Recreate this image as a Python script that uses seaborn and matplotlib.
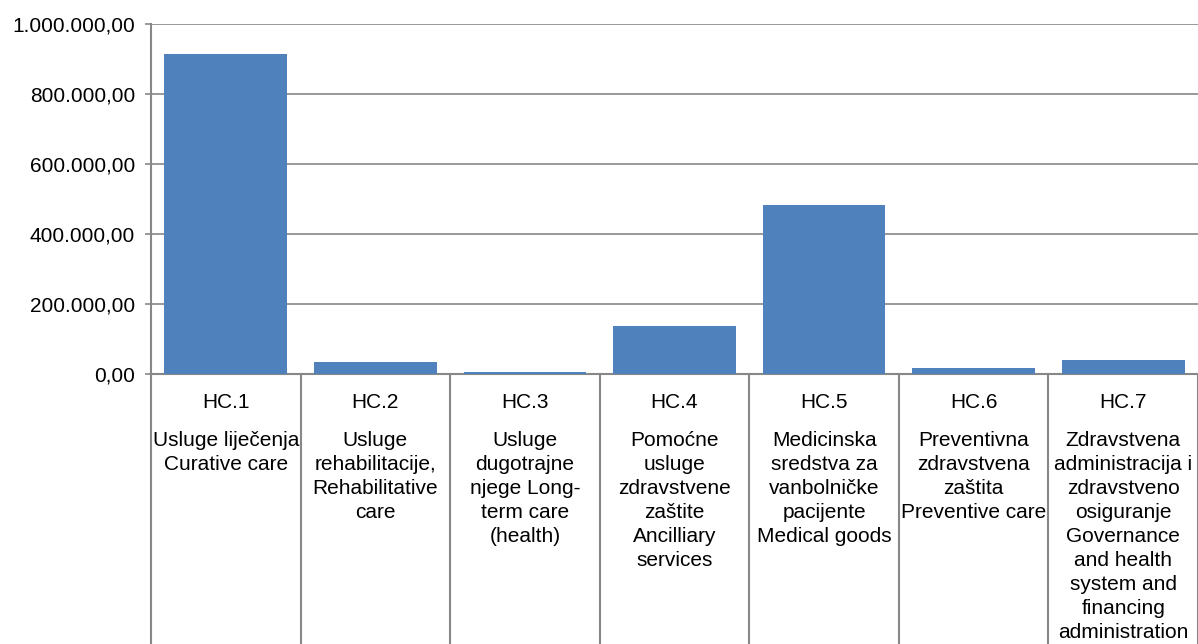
import numpy as np
import pandas as pd
import matplotlib
matplotlib.use("Agg")
import matplotlib.pyplot as plt
import matplotlib.transforms as mtransforms
from matplotlib.ticker import FuncFormatter, MultipleLocator
import seaborn as sns

# Data
codes = ["HC.1", "HC.2", "HC.3", "HC.4", "HC.5", "HC.6", "HC.7"]
descriptions = [
    "Usluge liječenja\nCurative care",
    "Usluge\nrehabilitacije,\nRehabilitative\ncare",
    "Usluge\ndugotrajne\nnjege Long-\nterm care\n(health)",
    "Pomoćne\nusluge\nzdravstvene\nzaštite\nAncilliary\nservices",
    "Medicinska\nsredstva za\nvanbolničke\npacijente\nMedical goods",
    "Preventivna\nzdravstvena\nzaštita\nPreventive care",
    "Zdravstvena\nadministracija i\nzdravstveno\nosiguranje\nGovernance\nand health\nsystem and\nfinancing\nadministration",
]
values = [914000, 34000, 5000, 137000, 483000, 17000, 40000]

df = pd.DataFrame({"code": codes, "value": values})

sns.set_style("white")
plt.rcParams["font.family"] = ["Liberation Sans", "DejaVu Sans"]
plt.rcParams["text.color"] = "black"
plt.rcParams["ytick.labelcolor"] = "black"

grey = "#878787"
fig = plt.figure(figsize=(11.98, 6.44), dpi=100)
ax = fig.add_axes([151 / 1198, 1 - 374 / 644, 1 - 151 / 1198, 350 / 644])

sns.barplot(x="code", y="value", data=df, color="#4F81BD", width=0.82,
            saturation=1, linewidth=0, ax=ax, zorder=3)

ax.set_xlim(-0.5, len(codes) - 0.5)
ax.set_ylim(0, 1000000)
ax.yaxis.set_major_locator(MultipleLocator(200000))
ax.yaxis.set_major_formatter(FuncFormatter(
    lambda v, p: f"{v:,.2f}".replace(",", "X").replace(".", ",").replace("X", ".")))
ax.grid(axis="y", color=grey, linewidth=1.2, zorder=0)
ax.set_axisbelow(True)
ax.set_xlabel("")
ax.set_ylabel("")
ax.set_xticks([])
ax.tick_params(axis="y", length=4.5, width=1.2, color=grey, labelsize=15, pad=7,
               left=True, direction="out", labelcolor="black")
for s in ["top", "right"]:
    ax.spines[s].set_visible(False)
for s in ["left", "bottom"]:
    ax.spines[s].set_color(grey)
    ax.spines[s].set_linewidth(1.5)

# category table below the axis
trans = mtransforms.blended_transform_factory(ax.transData, ax.transAxes)
for b in np.arange(-0.5, len(codes) - 0.5 + 0.01, 1.0):
    ax.plot([b, b], [0, -0.78], transform=trans, color=grey, linewidth=1.5,
            clip_on=False)
for i, (c, d) in enumerate(zip(codes, descriptions)):
    ax.text(i, -0.08, c, transform=trans, ha="center", va="center", fontsize=15,
            color="black")
    ax.text(i, -0.163, d, transform=trans, ha="center", va="top", fontsize=15,
            linespacing=1.33, multialignment="center", color="black")

fig.savefig("out.png", dpi=100)
